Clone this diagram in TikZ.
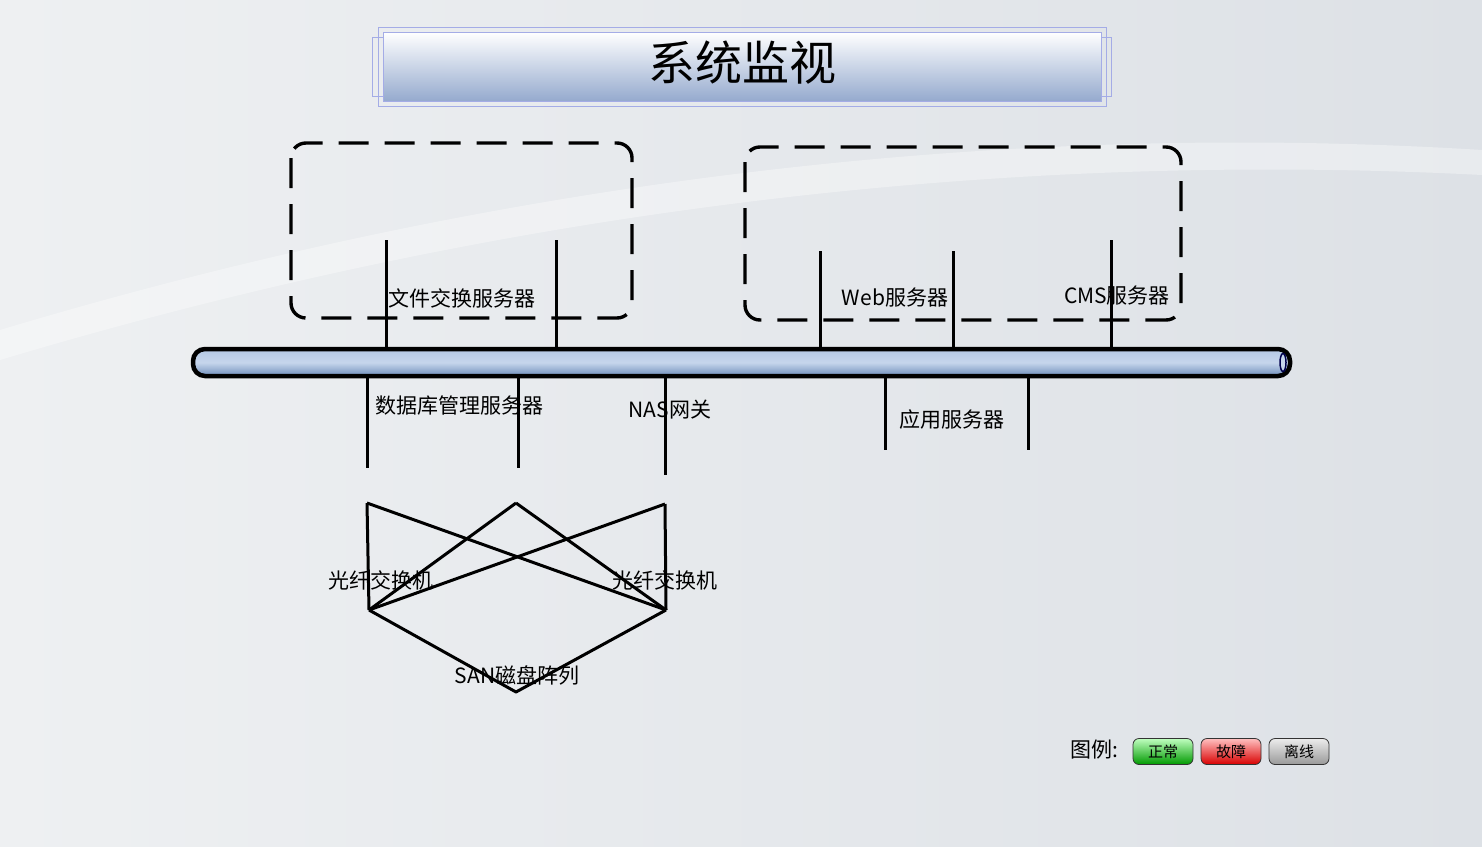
\documentclass[tikz,border=0pt]{standalone}
\usepackage{fontspec}
\newfontfamily\cjk{Noto Sans CJK SC}
\usetikzlibrary{shapes.geometric}
\definecolor{bgA}{HTML}{EEF0F2}
\definecolor{bgB}{HTML}{DDE1E6}
\definecolor{frameC}{HTML}{A4ACE6}
\definecolor{titleB}{HTML}{95AACE}
\definecolor{busT}{HTML}{B4C8E4}
\definecolor{busM}{HTML}{C6D6EC}
\definecolor{busB}{HTML}{6F8EBB}
\tikzset{
  lbl/.style={font=\cjk\fontsize{21}{21}\selectfont, inner sep=0pt, text=black},
  grp/.style={draw=black, line width=3.4pt, dash pattern=on 30pt off 16pt, rounded corners=15pt},
  tap/.style={draw=black, line width=3pt},
  san/.style={draw=black, line width=3pt, line join=round},
  btn/.style={draw=black!80, line width=0.8pt, rounded corners=6pt, minimum width=60pt, minimum height=26pt, inner sep=0pt, font=\cjk\fontsize{15}{15}\selectfont},
}
\begin{document}
\begin{tikzpicture}[x=1pt,y=-1pt]
\useasboundingbox (0,0) rectangle (1482,846);
% background
\shade[left color=bgA, right color=bgB] (0,0) rectangle (1482,846);
\fill[white, opacity=0.35] (0,330) .. controls (500,180) and (1000,120) .. (1482,150) -- (1482,175) .. controls (1000,150) and (500,210) .. (0,360) -- cycle;

% title banner
\draw[frameC, line width=1pt] (378,27) rectangle (1106,106);
\draw[frameC, line width=1pt] (372,37) rectangle (1111,96);
\shade[top color=white, bottom color=titleB, draw=frameC, line width=1pt] (383,32) rectangle (1101,101);
\node[font=\cjk\fontsize{47}{47}\selectfont, inner sep=0pt] (title) at (742,63) {系统监视};

% dashed groups
\draw[grp] (291,143) rectangle (632,318);
\draw[grp] (745,147) rectangle (1181,320);

% bus
\shade[top color=busT, bottom color=busB, middle color=busM, draw=black, line width=4.5pt, rounded corners=12pt] (193,349) rectangle (1290,376);
\node[draw=black!70!blue, line width=1.5pt, ellipse, minimum width=6pt, minimum height=18pt, inner sep=0pt, fill=busM] (busend) at (1283,362.5) {};
\coordinate (bus) at (740,362);

% taps above bus
\foreach \n/\x/\y in {f1/386/240, f2/556/240, w1/820/251, w2/953/251, c1/1111/240}{
  \coordinate (\n top) at (\x,\y);
  \coordinate (\n bus) at (\x,349);
  \draw[tap] (\n top) -- (\n bus);
}
% taps below bus
\foreach \n/\x/\y in {d1/367/468, d2/518/468, nas/665/475, a1/885/450, a2/1028/450}{
  \coordinate (\n bot) at (\x,\y);
  \coordinate (\n bus) at (\x,376);
  \draw[tap] (\n bus) -- (\n bot);
}

% labels
\node[lbl] (fileSrv) at (462,298) {文件交换服务器};
\node[lbl] (webSrv) at (895,298) {Web服务器};
\node[lbl] (cmsSrv) at (1117,296) {CMS服务器};
\node[lbl] (dbSrv) at (459,406) {数据库管理服务器};
\node[lbl] (nasGw) at (670,410) {NAS网关};
\node[lbl] (appSrv) at (952,420) {应用服务器};

% SAN
\coordinate (A) at (367,503);
\coordinate (B) at (516,503);
\coordinate (C) at (665,504);
\coordinate (L) at (369,610);
\coordinate (R) at (666,610);
\coordinate (S) at (516,692);
\draw[san] (A) -- (L);
\draw[san] (C) -- (R);
\draw[san] (A) -- (R);
\draw[san] (B) -- (L);
\draw[san] (B) -- (R);
\draw[san] (C) -- (L);
\draw[san] (L) -- (S) -- (R);
\node[lbl] (fcL) at (381,580) {光纤交换机};
\node[lbl] (fcR) at (665,580) {光纤交换机};
\node[lbl] (sanArr) at (517,675) {SAN磁盘阵列};

% legend
\node[lbl, anchor=west] (legend) at (1070,750) {图例:};
\node[btn, top color=green!25!white, bottom color=green!60!black] (ok) at (1163,751.5) {正常};
\node[btn, top color=red!25!white, bottom color=red!85!black] (fault) at (1231,751.5) {故障};
\node[btn, top color=gray!15, bottom color=gray!80] (off) at (1299,751.5) {离线};
\end{tikzpicture}
\end{document}
